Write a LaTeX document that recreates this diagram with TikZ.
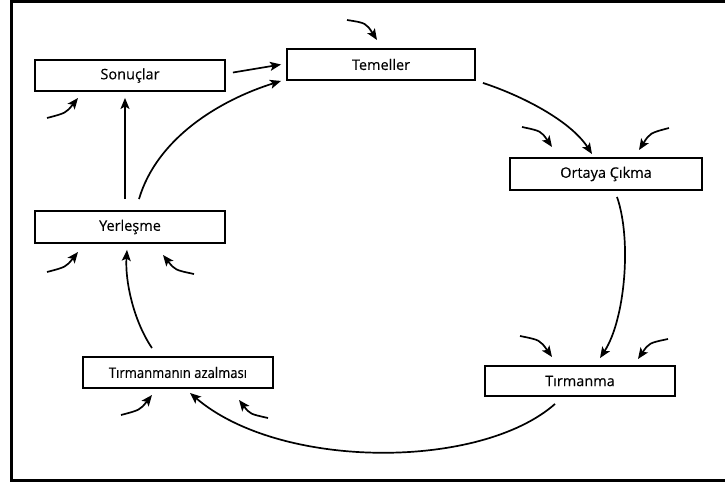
\documentclass[tikz,border=0pt]{standalone}
\usepackage{fontspec}
\setmainfont{Open Sans}[FakeBold=0.25]
\newfontfamily\narrowfont{Open Sans}[FakeStretch=0.9,FakeBold=0.25]
\usetikzlibrary{arrows.meta}
\tikzset{
  stage/.style={draw, line width=1.9pt, minimum height=31pt, minimum width=190pt, inner sep=0pt, font=\fontsize{14.5}{16}\selectfont},
  flow/.style={line width=1.7pt, -{Stealth[length=11pt,width=9pt,inset=2.5pt]}},
  inarrow/.style={line width=1.7pt, -{Stealth[length=11pt,width=9pt,inset=2.5pt]}},
}
\begin{document}
\begin{tikzpicture}[x=1pt,y=-1pt]
\useasboundingbox (0,0) rectangle (725,484);
\draw[line width=3pt] (725,1.5) -- (11.5,1.5) -- (11.5,480.5) -- (725,480.5);

\node[stage] (S) at (130,75.5) {Sonuçlar};
\node[stage, minimum width=188pt] (T) at (381,64.5) {Temeller};
\node[stage, minimum width=192pt, minimum height=32pt] (O) at (606,174) {Ortaya Çıkma};
\node[stage, minimum height=32pt] (Y) at (130,227) {Yerleşme};
\node[stage] (A) at (178,372.5) {\narrowfont Tırmanmanın azalması};
\node[stage, minimum height=30pt] (R) at (580,381) {Tırmanma};

% main flow
\draw[flow] ([xshift=7pt,yshift=3pt]S.east) -- ([xshift=-5pt]T.west);
\draw[flow] ([xshift=9pt,yshift=11pt]Y.north) .. controls (157,138) and (220,100) .. ([xshift=-5pt]T.south west);
\draw[flow] ([xshift=-5pt,yshift=11pt]Y.north) -- ([xshift=-5pt,yshift=-6pt]S.south);
\draw[flow] ([xshift=7pt,yshift=-2pt]T.south east) .. controls (520,95) and (570,120) .. ([xshift=-14pt,yshift=3pt]O.north);
\draw[flow] ([xshift=11pt,yshift=-6pt]O.south) .. controls (632,240) and (625,320) .. ([xshift=20pt,yshift=7pt]R.north);
\draw[flow] ([xshift=-25pt,yshift=-7pt]R.south) .. controls (480,470) and (280,470) .. ([xshift=12pt,yshift=-4pt]A.south);
\draw[flow] ([xshift=-26pt,yshift=8pt]A.north) .. controls (133,320) and (125,280) .. ([xshift=-3pt,yshift=-6pt]Y.south);

% incoming influences
\draw[inarrow] (347,20) .. controls (366,23) .. (377,40);
\draw[inarrow] (47,118) .. controls (66,113) .. (78,98);
\draw[inarrow] (522,127) .. controls (541,131) .. (552,147);
\draw[inarrow] (669,128) .. controls (650,133) .. (639,150);
\draw[inarrow] (47,272) .. controls (66,267) .. (78,252);
\draw[inarrow] (194,274) .. controls (175,270) .. (163,255);
\draw[inarrow] (121,415) .. controls (140,410) .. (152,395);
\draw[inarrow] (268,418) .. controls (250,414) .. (239,400);
\draw[inarrow] (520,336) .. controls (540,340) .. (552,357);
\draw[inarrow] (668,339) .. controls (649,343) .. (638,359);
\end{tikzpicture}
\end{document}
